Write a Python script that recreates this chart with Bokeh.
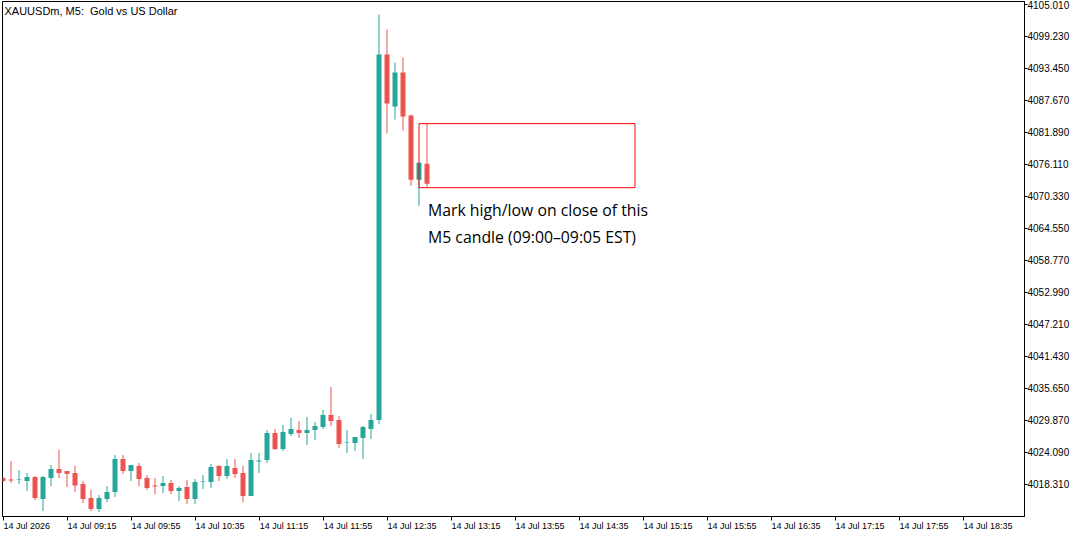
from bokeh.plotting import figure
from bokeh.models import Range1d, FixedTicker, PrintfTickFormatter, Label, ColumnDataSource
from bokeh.embed import file_html
from bokeh.resources import INLINE

# ---- data (XAUUSDm, M5 candles, bar index 0 = first visible bar) ----
opens = [4019.48, 4019.21, 4019.21, 4018.94, 4019.66, 4015.68, 4019.48, 4021.10, 4020.74, 4020.38,
         4018.39, 4015.86, 4013.87, 4015.68, 4016.95, 4022.91, 4020.74, 4021.65, 4019.48, 4018.12,
         4018.03, 4018.57, 4017.13, 4017.85, 4015.68, 4018.85, 4018.75, 4021.65, 4019.84, 4021.29,
         4020.38, 4016.22, 4022.46, 4022.73, 4027.61, 4024.72, 4027.43, 4028.16, 4027.61, 4028.16,
         4028.70, 4030.87, 4029.96, 4025.90, 4025.81, 4026.71, 4028.34, 4029.96, 4095.97, 4086.57,
         4092.71, 4084.94, 4073.36, 4076.26]
highs = [4019.66, 4022.55, 4020.92, 4020.38, 4019.84, 4019.84, 4021.83, 4024.54, 4020.74, 4021.65,
         4018.94, 4017.31, 4016.40, 4018.03, 4023.64, 4023.64, 4021.83, 4022.19, 4020.02, 4019.48,
         4019.84, 4019.12, 4018.03, 4019.12, 4019.30, 4020.02, 4022.01, 4021.83, 4022.91, 4022.91,
         4021.65, 4024.00, 4024.00, 4028.16, 4028.34, 4029.06, 4030.33, 4029.78, 4030.51, 4029.60,
         4031.77, 4035.93, 4030.69, 4028.16, 4026.89, 4028.88, 4031.05, 4103.20, 4100.49, 4094.52,
         4095.43, 4085.12, 4076.44, 4083.49]
lows = [4018.75, 4018.57, 4018.39, 4017.13, 4015.50, 4013.51, 4018.03, 4019.48, 4017.85, 4016.95,
        4014.96, 4013.51, 4013.33, 4015.14, 4016.04, 4020.20, 4018.94, 4018.03, 4017.31, 4016.59,
        4016.77, 4016.59, 4015.32, 4014.78, 4014.78, 4017.49, 4017.67, 4018.94, 4019.30, 4019.48,
        4015.14, 4016.22, 4020.38, 4022.19, 4024.54, 4024.36, 4027.07, 4026.71, 4025.45, 4026.35,
        4028.34, 4028.88, 4024.90, 4024.00, 4024.36, 4022.91, 4026.53, 4029.24, 4081.68, 4084.22,
        4082.23, 4072.28, 4068.66, 4071.92]
closes = [4018.94, 4019.03, 4019.30, 4019.66, 4015.86, 4019.66, 4021.10, 4020.38, 4020.20, 4018.12,
          4015.68, 4013.87, 4015.86, 4016.95, 4022.91, 4020.74, 4021.83, 4019.30, 4017.67, 4017.94,
          4018.57, 4017.13, 4017.67, 4015.68, 4018.75, 4018.94, 4021.47, 4019.84, 4021.65, 4020.20,
          4016.22, 4022.73, 4022.64, 4027.61, 4024.72, 4027.80, 4028.34, 4027.61, 4028.16, 4028.88,
          4030.87, 4029.78, 4025.63, 4025.99, 4026.89, 4028.70, 4029.96, 4095.97, 4087.11, 4092.71,
          4084.76, 4073.36, 4076.44, 4072.64]

x_tick_bars = [0, 8, 16, 24, 32, 40, 48, 56, 64, 72, 80, 88, 96, 104, 112, 120]
x_tick_labels = ["14 Jul 2026", "14 Jul 09:15", "14 Jul 09:55", "14 Jul 10:35", "14 Jul 11:15",
                 "14 Jul 11:55", "14 Jul 12:35", "14 Jul 13:15", "14 Jul 13:55", "14 Jul 14:35",
                 "14 Jul 15:15", "14 Jul 15:55", "14 Jul 16:35", "14 Jul 17:15", "14 Jul 17:55",
                 "14 Jul 18:35"]
y_ticks = [4018.31, 4024.09, 4029.87, 4035.65, 4041.43, 4047.21, 4052.99, 4058.77,
           4064.55, 4070.33, 4076.11, 4081.89, 4087.67, 4093.45, 4099.23, 4105.01]

marked_bar = 53
box_start_bar = 52
box_end_bar = 79

title_text = "XAUUSDm, M5:\u00a0 Gold vs US Dollar"
note_lines = ["Mark high/low on close of this", "M5 candle (09:00\u201309:05 EST)"]

UP = "#26a69a"
DOWN = "#ef5350"

n = len(opens)
src = ColumnDataSource(dict(
    x=list(range(n)),
    high=highs,
    low=lows,
    top=[max(o, c) for o, c in zip(opens, closes)],
    bottom=[min(o, c) for o, c in zip(opens, closes)],
    color=[UP if c >= o else DOWN for o, c in zip(opens, closes)],
))

BAR_PX = 8.0
p = figure(frame_width=1022, frame_height=515,
           x_range=Range1d(-0.0625, -0.0625 + 1022 / BAR_PX),
           y_range=Range1d(4012.53, 4105.55),
           output_backend="svg", toolbar_location=None,
           y_axis_location="right", x_axis_location="below",
           min_border_left=2, min_border_top=1, min_border_right=58, min_border_bottom=21,
           background_fill_color="white", border_fill_color="white")
p.xgrid.visible = False
p.ygrid.visible = False
p.outline_line_color = "black"
p.outline_line_width = 1

p.segment(x0="x", y0="low", x1="x", y1="high", line_color="color", line_width=1, source=src)
p.vbar(x="x", width=0.625, top="top", bottom="bottom", fill_color="color", line_color=None, source=src)

# red box spanning the marked candle's high/low
p.quad(left=[box_start_bar], right=[box_end_bar], top=[highs[marked_bar]], bottom=[lows[marked_bar]],
       fill_color=None, line_color="#ff0000", line_width=1)

# x axis: labels left-aligned after the tick mark
char_w = {d: 0.556 for d in "0123456789"}
char_w.update({" ": 0.278, "J": 0.5, "u": 0.556, "l": 0.222, ":": 0.278})
XFS = 9


def label_width(s):
    return sum(char_w.get(ch, 0.55) for ch in s) * XFS


x_label_pos = [round(b + (0.5 + label_width(t) / 2) / BAR_PX, 4) for b, t in zip(x_tick_bars, x_tick_labels)]
xa = p.xaxis[0]
xa.ticker = FixedTicker(ticks=x_label_pos, minor_ticks=x_tick_bars)
xa.major_label_overrides = {pos: t for pos, t in zip(x_label_pos, x_tick_labels)}
xa.major_tick_line_color = None
xa.major_tick_out = 4
xa.major_tick_in = 0
xa.minor_tick_line_color = "black"
xa.minor_tick_out = 4
xa.minor_tick_in = 0
xa.axis_line_color = "black"
xa.major_label_standoff = 0
xa.major_label_text_font = "Liberation Sans"
xa.major_label_text_font_size = f"{XFS}px"
xa.major_label_text_color = "black"

ya = p.yaxis[0]
ya.ticker = FixedTicker(ticks=y_ticks)
ya.formatter = PrintfTickFormatter(format="%.3f")
ya.major_tick_out = 3
ya.major_tick_in = 0
ya.minor_tick_line_color = None
ya.major_tick_line_color = "black"
ya.axis_line_color = "black"
ya.major_label_standoff = 0
ya.major_label_text_font = "Liberation Sans"
ya.major_label_text_font_size = "10px"
ya.major_label_text_color = "black"

p.add_layout(Label(x=2, y=505.5, x_units="screen", y_units="screen", text=title_text,
                   text_font="Liberation Sans", text_font_size="11px", text_color="black",
                   text_baseline="alphabetic", text_align="left"))

for k, line in enumerate(note_lines):
    p.add_layout(Label(x=marked_bar, y=lows[marked_bar], x_offset=1, y_offset=-22 - 27 * k,
                       text=line, text_font="Open Sans", text_font_size="15.8px",
                       text_color="black", text_baseline="alphabetic", text_align="left"))

open("out.html", "w").write(file_html(p, INLINE))
